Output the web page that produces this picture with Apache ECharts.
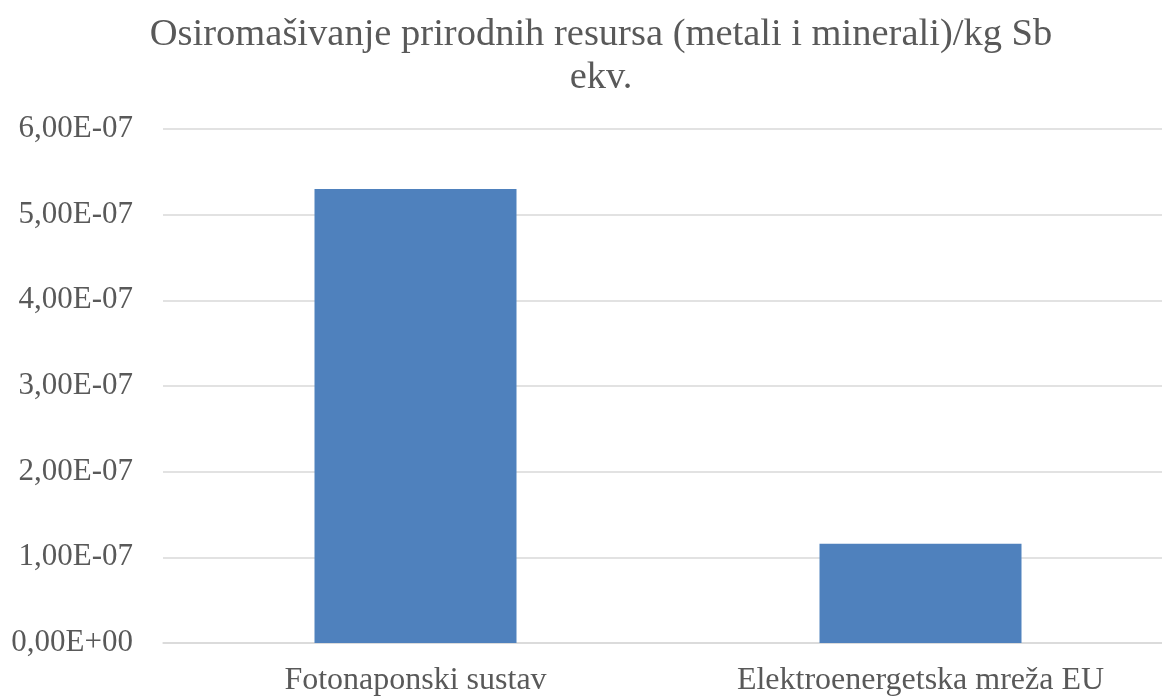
<!DOCTYPE html>
<html>
<head>
<meta charset="utf-8">
<script src="https://cdn.jsdelivr.net/npm/echarts@6/dist/echarts.min.js"></script>
<style>
  html, body { margin: 0; padding: 0; background: #ffffff; overflow: hidden; }
  #chart { width: 1180px; height: 697px; }
</style>
</head>
<body>
<div id="chart"></div>
<script>
// Depletion of abiotic resources (metals and minerals), kg Sb eq.
const chartTitle = 'Osiromašivanje prirodnih resursa (metali i minerali)/kg Sb\nekv.';
const categories = ['Fotonaponski sustav', 'Elektroenergetska mreža EU'];
const depletionValues = [5.30e-7, 1.16e-7];
const axisMin = 0;
const axisMax = 6e-7;
const axisStep = 1e-7;

const serif = '"Liberation Serif", "Times New Roman", serif';
const textColor = '#595959';

function formatSci(v) {
  if (v === 0) return '0,00E+00';
  const exp = Math.floor(Math.log10(Math.abs(v)) + 1e-9);
  const mant = v / Math.pow(10, exp);
  const sign = exp < 0 ? '-' : '+';
  const e = String(Math.abs(exp)).padStart(2, '0');
  return mant.toFixed(2).replace('.', ',') + 'E' + sign + e;
}

const chart = echarts.init(document.getElementById('chart'), null, { renderer: 'canvas' });
chart.setOption({
  backgroundColor: '#ffffff',
  animation: false,
  title: {
    text: chartTitle,
    left: 596,
    textAlign: 'center',
    top: 8,
    textStyle: {
      fontFamily: serif,
      fontSize: 38.5,
      fontWeight: 'normal',
      color: textColor,
      lineHeight: 43
    }
  },
  grid: {
    left: 163,
    top: 129,
    width: 1010,
    height: 514,
    containLabel: false
  },
  xAxis: {
    type: 'category',
    data: categories,
    axisLine: { show: true, lineStyle: { color: '#d9d9d9', width: 1.5 } },
    axisTick: { show: false },
    axisLabel: {
      fontFamily: serif,
      fontSize: 32,
      color: textColor,
      margin: 22
    }
  },
  yAxis: {
    type: 'value',
    min: axisMin,
    max: axisMax,
    interval: axisStep,
    axisLine: { show: false },
    axisTick: { show: false },
    splitLine: { show: true, lineStyle: { color: '#d9d9d9', width: 1.5 } },
    axisLabel: {
      fontFamily: serif,
      fontSize: 31,
      color: textColor,
      margin: 30,
      formatter: formatSci
    }
  },
  series: [{
    type: 'bar',
    data: depletionValues,
    barWidth: '40%',
    itemStyle: { color: '#4f81bd' }
  }]
});
</script>
</body>
</html>
